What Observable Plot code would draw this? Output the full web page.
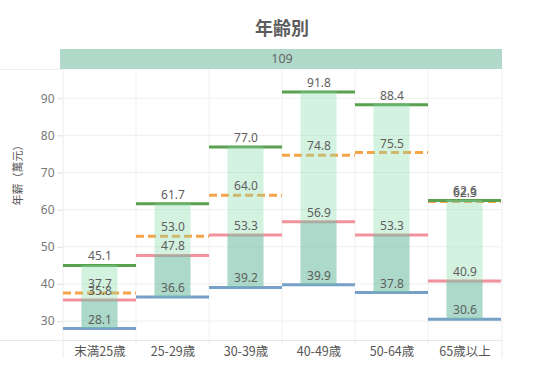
<!DOCTYPE html>
<html><head><meta charset="utf-8">
<script src="https://cdn.jsdelivr.net/npm/d3@7"></script>
<script src="https://cdn.jsdelivr.net/npm/@observablehq/plot@0.6"></script>
<style>
body{margin:0;background:#fff;font-family:"Noto Sans","Noto Sans CJK JP",sans-serif;}
#title{height:40px;width:546px;box-sizing:border-box;padding-left:18px;text-align:center;font-family:"Noto Sans CJK JP",sans-serif;font-size:18px;font-weight:bold;color:#5c5c5c;line-height:54px;overflow:visible;}
</style></head><body>
<div id="title">年齢別</div>
<div id="chart"></div>
<script>
const categories = ["末満25歳","25-29歳","30-39歳","40-49歳","50-64歳","65歳以上"];
const maxVals    = [45.1, 61.7, 77.0, 91.8, 88.4, 62.6];
const meanVals   = [37.7, 53.0, 64.0, 74.8, 75.5, 62.3];
const medianVals = [35.8, 47.8, 53.3, 56.9, 53.3, 40.9];
const minVals    = [28.1, 36.6, 39.2, 39.9, 37.8, 30.6];
const yTicks = [30, 40, 50, 60, 70, 80, 90];
const headerLabel = "109";
const yLabel = "年薪（萬元）";

const data = categories.map((c, i) => ({cat: c, max: maxVals[i], mean: meanVals[i], median: medianVals[i], min: minVals[i]}));
const fmt = d3.format(".1f");
const font = "'Noto Sans', 'Noto Sans CJK JP', sans-serif";

function decorations(index, scales, values, dimensions) {
  const {width, height, marginLeft, marginRight, marginTop, marginBottom} = dimensions;
  const left = marginLeft, right = width - marginRight, top = marginTop, bottom = height - marginBottom;
  const g = d3.create("svg:g");
  for (const t of yTicks) {
    const y = scales.y(t);
    g.append("line").attr("x1", left).attr("x2", right).attr("y1", y).attr("y2", y).attr("stroke", "#efefef");
  }
  const edges = categories.map(c => scales.x(c)).concat([right]);
  edges.forEach((x, i) => {
    const outer = i === 0 || i === edges.length - 1;
    g.append("line").attr("x1", x).attr("x2", x).attr("y1", top - 1).attr("y2", outer ? bottom + 18 : bottom + 4)
      .attr("stroke", outer ? "#ececec" : "#f0f0f0");
  });
  g.append("line").attr("x1", 0).attr("x2", right).attr("y1", bottom + 0.5).attr("y2", bottom + 0.5).attr("stroke", "#e8e8e8");
  g.append("line").attr("x1", 0).attr("x2", left).attr("y1", top - 0.5).attr("y2", top - 0.5).attr("stroke", "#ececec");
  g.append("rect").attr("x", left - 2).attr("y", top - 21).attr("width", right - left + 2).attr("height", 20).attr("fill", "#b1d9c9");
  g.append("text").attr("x", (left + right) / 2).attr("y", top - 11).attr("text-anchor", "middle").attr("dy", "0.35em")
    .attr("fill", "#666").attr("font-size", 12.5).attr("font-family", font).text(headerLabel);
  return g.node();
}

const lbl = {lineAnchor: "bottom", dy: -5, fill: "#5e5e5e", fontSize: 12};

const chart = Plot.plot({
  width: 546,
  height: 325,
  marginTop: 30,
  marginBottom: 25,
  marginLeft: 62,
  marginRight: 44,
  style: {fontFamily: font, background: "white"},
  x: {type: "band", domain: categories, padding: 0, axis: null},
  y: {domain: [24.9, 97.6], axis: null},
  marks: [
    decorations,
    Plot.tickY(data, {x: "cat", y: "min", stroke: "#76a0c7", strokeWidth: 3}),
    Plot.tickY(data, {x: "cat", y: "median", stroke: "#f1929c", strokeWidth: 3}),
    Plot.tickY(data, {x: "cat", y: "mean", stroke: "#f6a447", strokeWidth: 3, strokeDasharray: "8,4"}),
    Plot.tickY(data, {x: "cat", y: "max", stroke: "#59a14f", strokeWidth: 3}),
    Plot.barY(data, {x: "cat", y1: "min", y2: "max", fill: "rgb(139,220,171)", fillOpacity: 0.37, insetLeft: 18.5, insetRight: 18.5}),
    Plot.barY(data, {x: "cat", y1: "min", y2: "median", fill: "rgb(98,171,158)", fillOpacity: 0.35, insetLeft: 18.5, insetRight: 18.5}),
    Plot.text(data, {x: "cat", y: "max", text: d => fmt(d.max), ...lbl}),
    Plot.text(data, {x: "cat", y: "mean", text: d => fmt(d.mean), ...lbl}),
    Plot.text(data, {x: "cat", y: "median", text: d => fmt(d.median), ...lbl}),
    Plot.text(data, {x: "cat", y: "min", text: d => fmt(d.min), ...lbl}),
    Plot.axisY({ticks: yTicks, tickSize: 5, tickPadding: 3, stroke: "#e0e0e0", fill: "#777", fontSize: 12, label: null}),
    Plot.axisX({tickSize: 0, tickPadding: 7, fill: "#555", fontSize: 12.5, label: null, fontFamily: "'Noto Sans CJK JP', sans-serif"}),
    Plot.text([yLabel], {frameAnchor: "left", rotate: -90, dx: -44, fontSize: 11, fill: "#555", fontFamily: "'Noto Sans CJK JP', sans-serif"})
  ]
});
document.getElementById("chart").appendChild(chart);
</script>
</body></html>
